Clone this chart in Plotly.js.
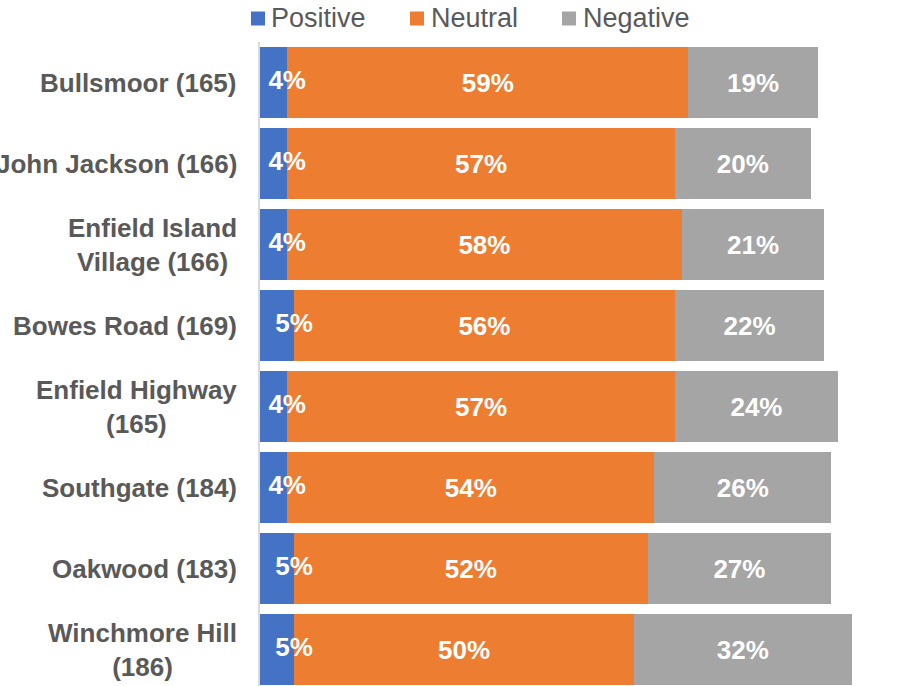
<!DOCTYPE html>
<html>
<head>
<meta charset="utf-8">
<script src="https://cdn.plot.ly/plotly-3.0.1.min.js"></script>
<style>html,body{margin:0;padding:0;background:#fff;}#chart{width:904px;height:686px;}</style>
</head>
<body>
<div id="chart"></div>
<script>
const categories = [
  "Bullsmoor (165)",
  "John Jackson (166)",
  "Enfield Island<br>Village (166)",
  "Bowes Road (169)",
  "Enfield Highway<br>(165)",
  "Southgate (184)",
  "Oakwood (183)",
  "Winchmore Hill<br>(186)"
];
const seriesNames = ["Positive", "Neutral", "Negative"];
const seriesColors = ["#4472C4", "#ED7D31", "#A5A5A5"];
const positive = [4, 4, 4, 5, 4, 4, 5, 5];
const neutral  = [59, 57, 58, 56, 57, 54, 52, 50];
const negative = [19, 20, 21, 22, 24, 26, 27, 32];

const FONT = "Liberation Sans, Arial, sans-serif";
const labelFont = {family: FONT, size: 26, color: "#ffffff", weight: "bold"};

// plot area geometry (pixels)
const W = 904, H = 686, ML = 260, MT = 42;
const PW = W - ML, PH = H - MT;
const px2x = p => (p - ML) / PW;
const py2y = p => (H - p) / PH;

function barTrace(name, vals, color, showText) {
  return {
    type: "bar", orientation: "h", name: name,
    x: vals, y: categories, showlegend: false,
    marker: {color: color},
    text: showText ? vals.map(v => v + "%") : undefined,
    texttemplate: showText ? "%{text}" : undefined,
    textposition: showText ? "inside" : "none",
    insidetextanchor: "middle",
    textangle: 0,
    constraintext: "none",
    textfont: labelFont,
    hoverinfo: "skip"
  };
}

const data = [
  barTrace(seriesNames[0], positive, seriesColors[0], false),
  barTrace(seriesNames[1], neutral, seriesColors[1], true),
  barTrace(seriesNames[2], negative, seriesColors[2], true),
  {
    type: "scatter", mode: "text", showlegend: false,
    x: positive, y: categories,
    text: positive.map(v => v + "%"),
    textposition: "middle center",
    textfont: labelFont,
    hoverinfo: "skip", cliponaxis: false
  }
];

// category labels (centered multi-line, right-anchored)
const annotations = categories.map(c => ({
  xref: "paper", yref: "y", x: px2x(239), y: c,
  xanchor: "right", yanchor: "middle", align: "center",
  text: c, showarrow: false,
  font: {family: FONT, size: 26, color: "#595959", weight: "bold"}
}));

// legend
const legSq = [251, 410, 562];
const legTx = [269, 429, 581];
const shapes = [];
seriesNames.forEach((n, i) => {
  shapes.push({
    type: "rect", xref: "paper", yref: "paper",
    x0: px2x(legSq[i]), x1: px2x(legSq[i] + 14),
    y0: py2y(25.5), y1: py2y(11.5),
    fillcolor: seriesColors[i], line: {width: 0}
  });
  annotations.push({
    xref: "paper", yref: "paper", x: px2x(legTx[i]), y: py2y(18),
    xanchor: "left", yanchor: "middle", text: n, showarrow: false,
    font: {family: FONT, size: 27, color: "#595959"}
  });
});

const layout = {
  width: W, height: H,
  margin: {l: ML, r: 0, t: MT, b: 0, pad: 0},
  barmode: "stack",
  bargap: 0.123,
  paper_bgcolor: "#ffffff", plot_bgcolor: "#ffffff",
  showlegend: false,
  xaxis: {range: [0, 94.7], showticklabels: false, showgrid: false, zeroline: false, showline: false, fixedrange: true},
  yaxis: {
    type: "category", range: [7.45, -0.5],
    showgrid: false, zeroline: false, showticklabels: false,
    showline: true, linecolor: "#D9D9D9", linewidth: 2,
    ticks: "", fixedrange: true
  },
  annotations: annotations,
  shapes: shapes
};

Plotly.newPlot("chart", data, layout, {staticPlot: true, displayModeBar: false});
</script>
</body>
</html>
